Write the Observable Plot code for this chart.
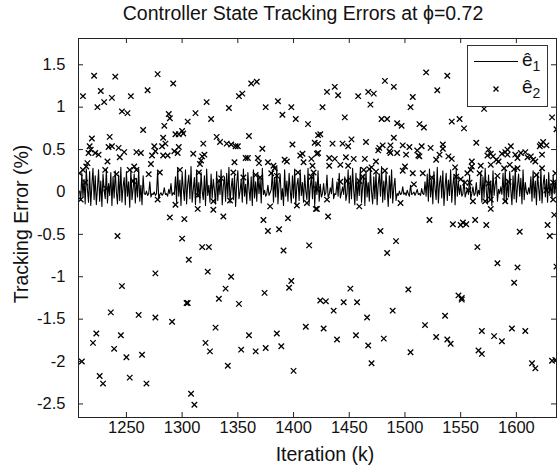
<!DOCTYPE html>
<html>
<head>
<meta charset="utf-8">
<script src="https://cdn.jsdelivr.net/npm/d3@7"></script>
<script src="https://cdn.jsdelivr.net/npm/@observablehq/plot@0.6"></script>
<style>
  body { margin:0; background:white; font-family:'Liberation Sans', Arial, sans-serif; }
  #wrap { position:relative; width:557px; height:469px; background:white; }
  #title { position:absolute; left:64px; width:478px; top:2px; text-align:center; font-size:19.5px; color:#111; white-space:nowrap; }
  #chart { position:absolute; left:0; top:30px; }
  #xlabel { position:absolute; left:86px; width:478px; top:443px; text-align:center; font-size:19.5px; color:#111; }
  #ylabel { position:absolute; left:21px; top:224px; transform:translate(-50%,-50%) rotate(-90deg); font-size:19.5px; color:#111; white-space:nowrap; }
  #legend { position:absolute; left:467px; top:45px; width:79px; height:60px; border:1px solid #333; background:white; }
  #legend .ln { position:absolute; left:6px; top:15px; width:44px; border-top:1px solid black; }
  #legend .t { position:absolute; left:54px; font-size:19px; color:#111; line-height:1; }
  #legend .t sub { font-size:14px; vertical-align:-5px; }
  #legend svg { position:absolute; left:23px; top:38px; }
</style>
</head>
<body>
<div id="wrap">
  <div id="title">Controller State Tracking Errors at ϕ=0.72</div>
  <div id="chart"></div>
  <div id="xlabel">Iteration (k)</div>
  <div id="ylabel">Tracking Error (%)</div>
  <div id="legend">
    <div class="ln"></div>
    <div class="t" style="top:4px;">ê<sub>1</sub></div>
    <svg width="10" height="10"><path d="M2.5,2.5L7.5,7.5M7.5,2.5L2.5,7.5" stroke="black" stroke-width="1.3"/></svg>
    <div class="t" style="top:31px;">ê<sub>2</sub></div>
  </div>
</div>
<script>
const xTicks = [1250, 1300, 1350, 1400, 1450, 1500, 1550, 1600];
const yTicks = [-2.5, -2, -1.5, -1, -0.5, 0, 0.5, 1, 1.5];
const xDomain = [1207, 1636];
const yDomain = [-2.66, 1.81];

// e1: one value per iteration starting at e1Start
const e1Start = 1208;
const e1 = [
  0.01,-0.10,0.22,-0.06,0.15,-0.14,0.27,0.03,-0.12,0.24,
  -0.16,0.08,0.28,-0.09,0.19,-0.15,0.04,0.26,-0.11,0.13,
  -0.17,0.21,0.02,-0.08,0.27,-0.13,0.10,-0.04,0.23,-0.16,
  0.18,-0.07,0.25,0.00,-0.14,0.20,-0.10,0.29,-0.12,0.06,
  0.17,-0.15,0.24,-0.05,0.12,-0.18,0.26,-0.09,0.03,0.21,
  -0.13,0.16,-0.06,0.27,-0.11,0.08,-0.15,0.19,
  -0.02,-0.03,0.01,-0.04,-0.02,0.12,-0.06,-0.02,-0.03,0.00,
  -0.04,-0.02,0.24,-0.08,-0.03,-0.01,-0.04,-0.02,0.05,-0.03,
  -0.02,-0.05,0.03,-0.02,0.10,-0.04,-0.01,-0.03,
  0.18,-0.12,0.28,-0.05,0.14,-0.16,0.22,0.04,-0.10,0.26,
  -0.14,0.09,0.20,-0.08,0.30,-0.12,0.03,0.17,-0.15,0.25,
  -0.06,0.11,-0.13,0.23,0.01,-0.09,0.19,-0.16,0.27,-0.04,
  0.08,-0.12,0.21,-0.07,0.15,0.02,-0.14,0.24,-0.10,0.12,
  -0.03,0.26,-0.15,0.07,0.18,-0.11,0.22,-0.06,0.29,-0.13,
  0.05,0.16,-0.09,0.20,-0.17,0.10,0.25,-0.08,0.01,0.14,
  -0.12,0.27,-0.05,0.09,-0.14,0.23,0.03,-0.10,0.18,-0.16,
  0.26,-0.07,0.12,-0.11,0.21,-0.02,0.15,-0.13,0.28,
  -0.03,0.02,-0.05,-0.02,0.08,-0.04,-0.01,0.03,
  0.24,-0.12,0.17,-0.06,0.29,-0.14,0.10,0.21,-0.09,0.04,
  -0.16,0.26,-0.05,0.13,-0.11,0.22,0.02,-0.13,0.19,-0.07,
  0.27,-0.15,0.08,0.16,-0.10,0.24,-0.04,0.11,-0.12,0.20,
  0.01,-0.09,0.28,-0.14,0.06,0.18,-0.08,0.23,-0.16,0.12,
  -0.03,0.25,-0.11,0.09,-0.06,
  -0.02,0.10,-0.04,-0.01,0.20,-0.06,-0.03,0.05,-0.02,0.16,
  -0.08,-0.02,-0.03,0.12,-0.05,0.22,-0.07,-0.01,0.06,-0.03,
  0.18,-0.10,-0.02,
  0.26,-0.13,0.19,-0.08,0.28,0.02,-0.15,0.22,-0.10,0.14,
  -0.04,0.29,-0.12,0.07,0.20,-0.16,0.25,-0.06,0.11,-0.11,
  0.27,0.00,-0.14,0.18,-0.08,0.24,-0.15,0.09,0.21,-0.05,
  0.30,-0.12,0.13,-0.09,0.23,0.03,-0.17,0.19,-0.07,0.26,
  -0.13,0.06,0.16,-0.10,
  -0.02,-0.04,0.01,-0.03,-0.02,0.06,-0.03,-0.01,-0.04,0.02,
  -0.02,-0.05,0.08,-0.03,-0.02,0.00,-0.04,-0.01,0.03,-0.03,
  -0.02,-0.04,0.04,-0.02,-0.03,0.12,-0.05,
  0.21,-0.11,0.27,-0.06,0.15,-0.14,0.24,0.04,-0.09,0.29,
  -0.13,0.10,0.19,-0.07,0.25,-0.16,0.06,0.22,-0.10,0.14,
  -0.04,0.26,-0.12,0.08,0.20,-0.15,0.28,-0.05,0.11,
  -0.03,0.08,-0.05,-0.02,0.14,-0.06,-0.01,0.04,-0.03,0.19,
  -0.08,-0.02,0.06,-0.04,-0.02,0.11,-0.05,0.02,-0.03,
  0.23,-0.12,0.18,-0.07,0.28,0.01,-0.14,0.20,-0.09,0.12,
  -0.16,0.25,-0.04,0.09,0.17,-0.11,0.03,-0.02,0.06,-0.03,
  0.22,-0.10,0.27,-0.13,0.14,-0.06,0.24,0.02,-0.15,0.19,
  -0.08,0.29,-0.12,0.07,0.21,-0.05,0.16,-0.14,0.26,-0.09,
  0.11,0.00,-0.03,0.05,-0.02,0.18,-0.11,0.25,-0.07,0.13,
  -0.15,0.22,0.04,-0.10,0.27,-0.13,0.08,0.20,-0.06,0.15,
  -0.12,0.23,-0.04,0.10,-0.08,0.19,-0.02,0.12,-0.05
];

// e2 scatter: iteration and value
const e2Iter = [
  1221,1240,1278,1292,1211,1227,1230,1224,1237,1254,1269,1246,1251,1265,1288,1289,1284,1305,1312,1294,
  1297,1300,1301,1283,1285,1219,1235,1217,1216,1218,1222,1225,1234,1237,1243,1248,1244,1259,1263,1275,
  1273,1276,1282,1283,1287,1293,1296,1297,1310,1233,1272,1215,1214,1211,1208,1257,1259,1253,1231,1241,
  1280,1298,1270,1256,1213,1232,1209,1278,1294,1314,1289,1302,1242,1300,1306,1276,1246,1304,1305,1236,
  1261,1276,1291,1223,1245,1220,1239,1264,1250,1210,1226,1229,1253,1268,1308,1311,
  1362,1367,1351,1354,1322,1342,1326,1375,1386,1390,1398,1402,1413,1422,1331,1334,1340,1344,1348,1350,
  1360,1319,1399,1419,1372,1320,1318,1317,1316,1315,1347,1357,1359,1368,1369,1377,1382,1383,1392,1394,
  1408,1406,1409,1416,1421,1417,1418,1416,1404,1346,1355,1366,1370,1380,1385,1335,1333,1314,1328,1343,
  1328,1337,1379,1403,1412,1420,1373,1377,1387,1395,1318,1324,1391,1414,1323,1344,1339,1333,1351,1374,
  1398,1396,1330,1360,1385,1411,1321,1325,1353,1366,1375,1389,1341,1400,
  1519,1482,1490,1529,1437,1430,1440,1458,1467,1472,1469,1507,1505,1426,1446,1479,1484,1493,1497,1513,
  1517,1424,1490,1452,1435,1444,1449,1465,1480,1487,1476,1477,1486,1487,1493,1498,1501,1504,1511,1515,
  1512,1513,1523,1528,1422,1422,1432,1437,1432,1442,1447,1449,1454,1464,1474,1468,1470,1463,1462,1474,
  1482,1459,1442,1448,1498,1500,1507,1516,1508,1524,1421,1430,1459,1421,1431,1496,1522,1478,1492,1484,
  1451,1503,1424,1429,1445,1457,1436,1466,1489,1518,1528,1427,1439,1456,1467,1481,1505,1470,
  1538,1571,1542,1549,1553,1632,1636,1564,1534,1534,1531,1539,1542,1575,1577,1579,1582,1584,1574,1587,
  1590,1592,1595,1592,1594,1599,1601,1604,1608,1610,1613,1615,1617,1623,1622,1624,1627,1621,1560,1560,
  1559,1568,1577,1589,1598,1601,1556,1554,1550,1546,1545,1558,1567,1575,1583,1593,1623,1618,1635,1633,
  1557,1561,1572,1577,1590,1627,1633,1634,1577,1552,1550,1543,1555,1563,1573,1603,1628,1630,1565,1583,
  1601,1636,1598,1548,1551,1551,1536,1538,1541,1569,1580,1587,1596,1608,1566,1569,1614,1617,1632,1635
];
const e2Val = [
  1.37,1.36,1.39,1.28,1.13,1.19,1.06,1.00,1.11,1.13,1.20,0.95,0.93,0.73,0.92,0.87,0.78,0.83,0.93,0.68,
  0.68,0.72,0.69,0.64,0.57,0.63,0.65,0.54,0.46,0.50,0.46,0.44,0.53,0.54,0.52,0.47,0.41,0.47,0.46,0.54,
  0.43,0.48,0.54,0.43,0.43,0.48,0.46,0.53,0.45,0.36,0.33,0.34,0.30,0.26,0.22,0.30,0.26,0.26,0.26,0.21,
  0.23,0.26,0.21,0.13,0.11,0.04,-0.09,-0.09,-0.15,-0.20,-0.30,-0.32,-0.52,-0.55,-0.80,-0.96,-1.11,-1.31,-1.31,-1.42,
  -1.45,-1.48,-1.53,-1.67,-1.69,-1.78,-1.85,-1.92,-1.95,-2.00,-2.17,-2.26,-2.19,-2.26,-2.38,-2.51,
  1.28,1.30,1.13,1.16,1.06,0.99,0.86,1.00,1.07,0.91,1.00,0.86,0.80,0.67,0.65,0.59,0.57,0.56,0.54,0.54,
  0.66,0.57,0.56,0.58,0.51,0.44,0.42,0.37,0.33,0.23,0.35,0.40,0.40,0.40,0.34,0.35,0.31,0.28,0.38,0.36,
  0.45,0.43,0.35,0.39,0.45,0.31,0.23,0.18,0.23,0.23,0.17,0.20,0.17,0.22,0.19,0.16,0.13,-0.04,-0.11,-0.10,
  -0.21,-0.29,-0.17,-0.16,-0.13,-0.20,-0.33,-0.46,-0.44,-0.31,-0.65,-0.65,-0.69,-0.63,-0.94,-1.00,-1.14,-1.26,-1.32,-1.19,
  -1.05,-1.13,-1.60,-1.69,-1.67,-1.59,-1.78,-1.88,-1.86,-1.88,-1.84,-1.82,-2.05,-2.11,
  1.41,1.31,1.24,1.20,1.24,1.18,1.14,1.13,1.18,1.16,1.03,1.12,1.00,1.00,0.88,0.86,0.86,0.81,0.78,0.80,
  0.76,0.68,0.64,0.62,0.57,0.57,0.54,0.59,0.55,0.55,0.49,0.52,0.48,0.46,0.46,0.55,0.44,0.53,0.49,0.54,
  0.43,0.42,0.52,0.38,0.57,0.46,0.40,0.39,0.31,0.32,0.41,0.31,0.39,0.39,0.36,0.27,0.29,0.26,0.18,0.24,
  0.25,0.13,0.12,0.13,0.25,0.30,0.22,0.22,0.09,0.17,0.03,-0.09,-0.17,-0.20,-0.29,-0.13,-0.33,-0.46,-0.58,-0.72,
  -1.14,-1.15,-1.28,-1.29,-1.30,-1.30,-1.40,-1.48,-1.40,-1.57,-1.71,-1.61,-1.74,-1.69,-1.81,-1.73,-1.89,-2.02,
  1.37,0.98,0.83,0.86,0.75,0.88,0.74,0.58,0.56,0.51,0.44,0.42,0.39,0.50,0.45,0.42,0.38,0.36,0.43,0.45,
  0.47,0.50,0.54,0.44,0.32,0.44,0.40,0.46,0.47,0.41,0.42,0.38,0.36,0.44,0.56,0.59,0.55,0.54,0.36,0.30,
  0.26,0.31,0.32,0.28,0.27,0.28,0.22,0.11,0.15,0.18,0.29,0.11,0.22,0.10,0.19,0.12,0.28,0.20,0.22,0.11,
  0.02,-0.11,-0.11,-0.09,-0.11,0.02,-0.09,-0.27,-0.20,-0.36,-0.39,-0.38,-0.38,-0.33,-0.39,-0.47,-0.39,-0.52,-0.65,-0.84,
  -0.89,-0.88,-1.07,-1.22,-1.25,-1.27,-1.46,-1.74,-1.79,-1.64,-1.70,-1.76,-1.61,-1.64,-1.87,-1.91,-2.02,-2.08,-1.99,-1.98
];

const e1Data = e1.map((v, i) => ({k: e1Start + i, v}));
const e2Data = e2Iter.map((k, i) => ({k, v: e2Val[i]}));

const W = 557, H = 439, mL = 78, mR = 1, mT = 8, mB = 52;
const pw = W - mL - mR, ph = H - mT - mB, tl = 5;

const chart = Plot.plot({
  width: W, height: H,
  marginLeft: mL, marginRight: mR, marginTop: mT, marginBottom: mB,
  x: {domain: xDomain},
  y: {domain: yDomain},
  style: {fontFamily: "'Liberation Sans', Arial, sans-serif", fontSize: "16.5px", color: "#111", background: "white"},
  marks: [
    Plot.line(e1Data, {x: "k", y: "v", stroke: "black", strokeWidth: 1.1, clip: true}),
    Plot.dot(e2Data, {x: "k", y: "v", symbol: "times", r: 2.6, stroke: "black", strokeWidth: 1.3, clip: true}),
    Plot.frame({stroke: "#222", strokeWidth: 1}),
    Plot.tickX(xTicks, {x: d => d, insetTop: ph - tl, stroke: "#222"}),
    Plot.tickX(xTicks, {x: d => d, insetBottom: ph - tl, stroke: "#222"}),
    Plot.tickY(yTicks, {y: d => d, insetRight: pw - tl, stroke: "#222"}),
    Plot.tickY(yTicks, {y: d => d, insetLeft: pw - tl, stroke: "#222"}),
    Plot.axisX(xTicks, {tickSize: 0, tickPadding: 4, label: null, tickFormat: d => String(d)}),
    Plot.axisY(yTicks, {tickSize: 0, tickPadding: 13, label: null, tickFormat: d => String(d)})
  ]
});
document.getElementById("chart").appendChild(chart);
</script>
</body>
</html>
